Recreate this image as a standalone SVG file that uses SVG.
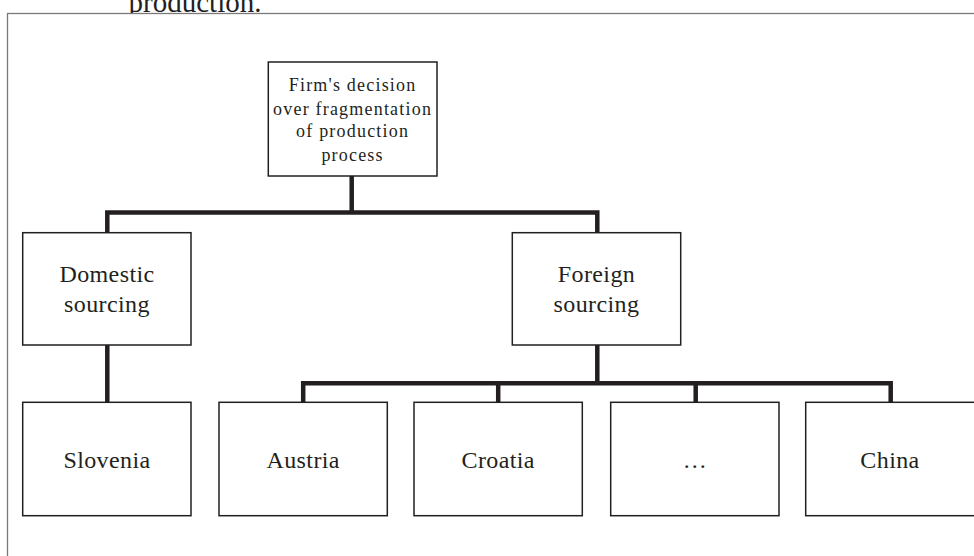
<svg xmlns="http://www.w3.org/2000/svg" width="974" height="556" viewBox="0 0 974 556">
<style>
.box{fill:#ffffff;stroke:#231f20;stroke-width:1.5}
.t{font-family:"Liberation Serif","Times New Roman",serif;fill:#231f20;text-anchor:middle}
.s{font-size:18px;letter-spacing:1.2px}
.m{font-size:24px;letter-spacing:0.4px}
.con{fill:none;stroke:#231f20;stroke-width:4.5;stroke-linejoin:miter;stroke-linecap:butt}
</style>
<rect x="0" y="0" width="974" height="556" fill="#ffffff"/>
<text class="t" x="195" y="11.5" style="font-size:29px">production.</text>
<rect x="7.5" y="13.5" width="1000" height="600" fill="#ffffff" stroke="#7a7a7a" stroke-width="1.3"/>
<g id="connectors">
<path class="con" d="M351.7 176 V212.5"/>
<path class="con" d="M107.3 233 V212.5 H597.3 V233"/>
<path class="con" d="M107.3 345 V402.3"/>
<path class="con" d="M597.3 345 V383.3"/>
<path class="con" d="M303.2 402.3 V383.3 H890.7 V402.3"/>
<path class="con" d="M498.2 383.3 V402.3"/>
<path class="con" d="M695.7 383.3 V402.3"/>
</g>
<g id="decision">
<rect class="box" x="268.3" y="62" width="168.7" height="114"/>
<text class="t s" x="352.6" y="91">Firm's decision</text>
<text class="t s" x="352.6" y="114.5">over fragmentation</text>
<text class="t s" x="352.6" y="137">of production</text>
<text class="t s" x="352.6" y="160.5">process</text>
</g>
<g id="domestic">
<rect class="box" x="22.7" y="232.7" width="168.3" height="112.3"/>
<text class="t m" x="107" y="281.7">Domestic</text>
<text class="t m" x="107" y="311.7">sourcing</text>
</g>
<g id="foreign">
<rect class="box" x="512.3" y="232.7" width="168.4" height="112.3"/>
<text class="t m" x="596.5" y="281.7">Foreign</text>
<text class="t m" x="596.5" y="311.7">sourcing</text>
</g>
<g id="slovenia">
<rect class="box" x="22.7" y="402.3" width="168.3" height="113.4"/>
<text class="t m" x="107" y="467.7">Slovenia</text>
</g>
<g id="austria">
<rect class="box" x="219" y="402.3" width="168.3" height="113.4"/>
<text class="t m" x="303.2" y="467.7">Austria</text>
</g>
<g id="croatia">
<rect class="box" x="414" y="402.3" width="168.3" height="113.4"/>
<text class="t m" x="498.2" y="467.7">Croatia</text>
</g>
<g id="ellipsis">
<rect class="box" x="610.7" y="402.3" width="168.3" height="113.4"/>
<text class="t m" x="695" y="467.7">…</text>
</g>
<g id="china">
<rect class="box" x="805.7" y="402.3" width="200" height="113.4"/>
<text class="t m" x="890" y="467.7">China</text>
</g>
</svg>
